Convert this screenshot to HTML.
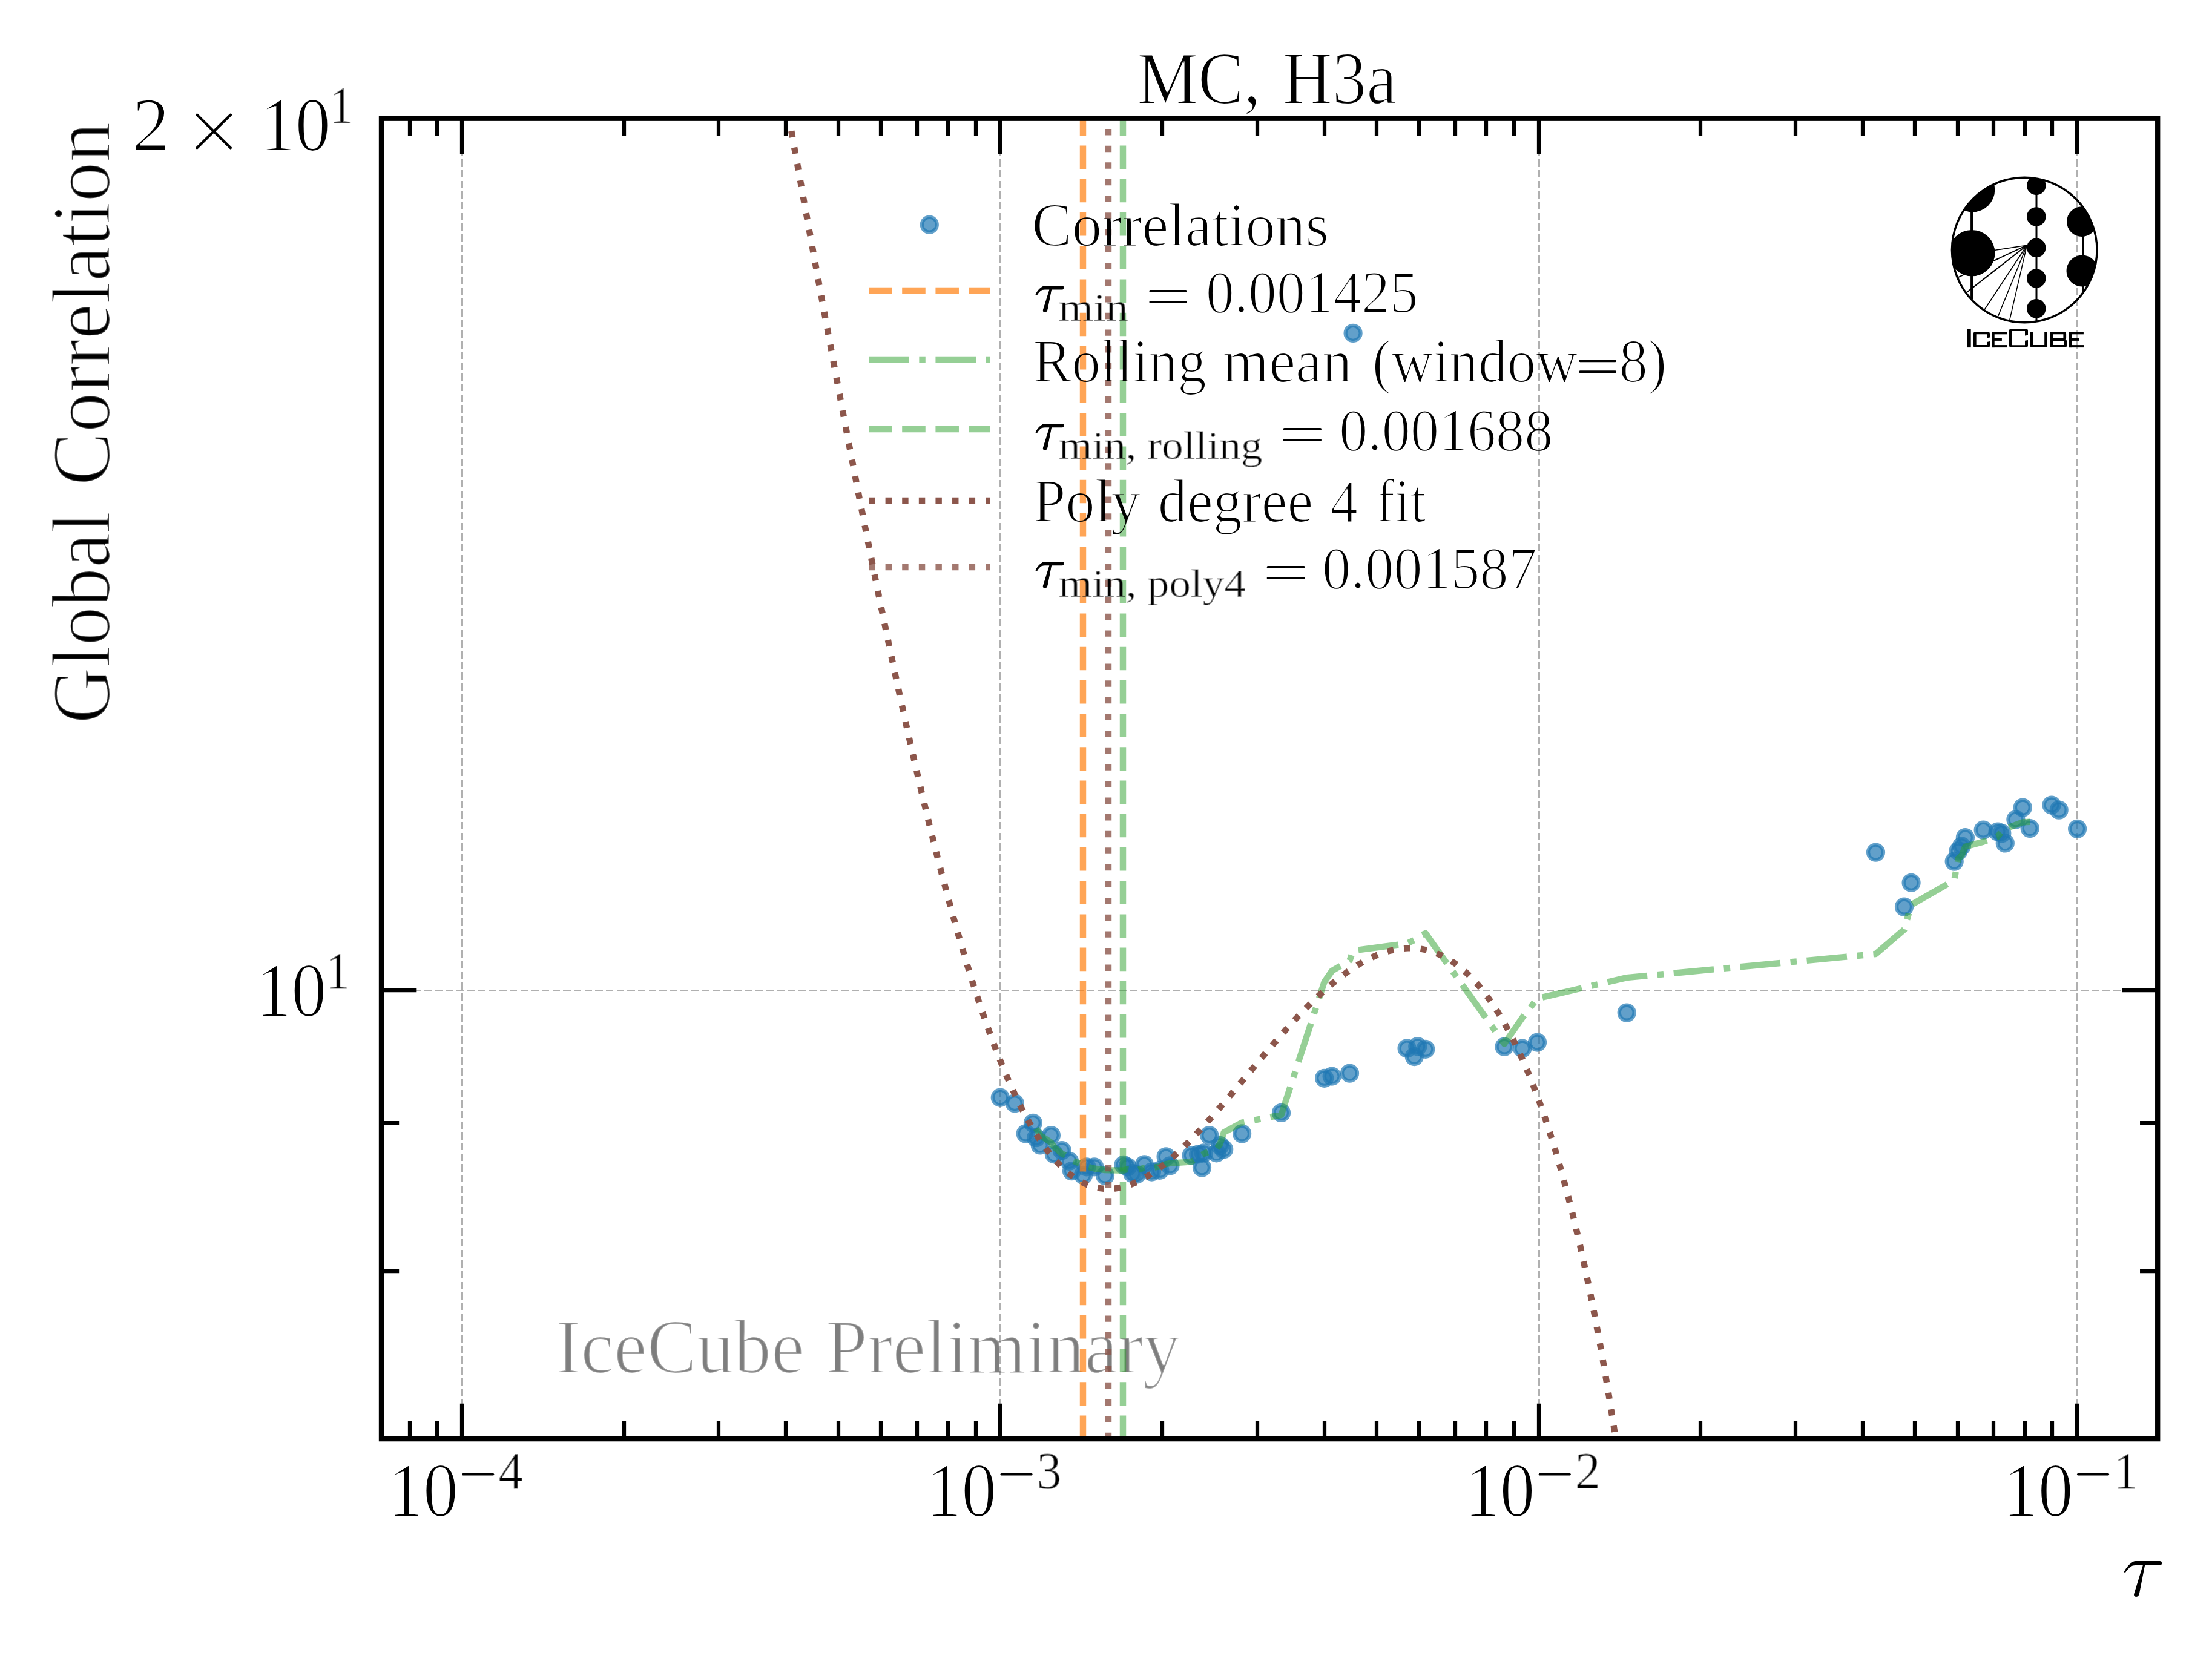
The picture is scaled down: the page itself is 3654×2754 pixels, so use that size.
<!DOCTYPE html>
<html><head><meta charset="utf-8"><title>MC, H3a</title>
<style>html,body{margin:0;padding:0;background:#fff;}body{width:3654px;height:2754px;overflow:hidden;}text{font-kerning:normal;white-space:pre;}</style></head>
<body>
<svg width="3654" height="2754" viewBox="0 0 3654 2754" style="display:block">
<rect width="3654" height="2754" fill="#fff"/>
<defs><clipPath id="ax"><rect x="630.0" y="195.7" width="2934.2" height="2181.4"/></clipPath><clipPath id="lc"><circle cx="3344.2" cy="413.0" r="120.5"/></clipPath><filter id="thin" filterUnits="userSpaceOnUse" x="0" y="0" width="3654" height="2754"><feMorphology operator="erode" radius="1"/></filter><filter id="thin2" filterUnits="userSpaceOnUse" x="0" y="0" width="3654" height="2754"><feMorphology operator="erode" radius="2"/></filter></defs>
<path d="M763.50,2377.1 L763.50,195.7 M1652.50,2377.1 L1652.50,195.7 M2542.50,2377.1 L2542.50,195.7 M3431.50,2377.1 L3431.50,195.7 M630.0,1636.50 L3564.2,1636.50" stroke="#b0b0b0" stroke-width="3" stroke-dasharray="12.33 5.33" fill="none" shape-rendering="crispEdges"/>
<g opacity="0.5"><g fill="#000" fill-opacity="0.75" filter="url(#thin)"><text transform="translate(918.28,2267.95) scale(0.9700,1.0)" style="font-family:&quot;Liberation Serif&quot;,serif;font-size:127px;">IceCube</text>
<text transform="translate(1363.93,2267.95) scale(0.9778,1.0)" style="font-family:&quot;Liberation Serif&quot;,serif;font-size:127px;">Preliminary</text></g>
<g fill="#000" filter="url(#thin2)"><text transform="translate(918.28,2267.95) scale(0.9700,1.0)" style="font-family:&quot;Liberation Serif&quot;,serif;font-size:127px;">IceCube</text>
<text transform="translate(1363.93,2267.95) scale(0.9778,1.0)" style="font-family:&quot;Liberation Serif&quot;,serif;font-size:127px;">Preliminary</text></g></g>
<g clip-path="url(#ax)">
<g fill="#1f77b4" fill-opacity="0.7" stroke="#1f77b4" stroke-opacity="0.7" stroke-width="6.25">
<circle cx="1652.3" cy="1813.2" r="12.5"/>
<circle cx="1676.3" cy="1822.7" r="12.5"/>
<circle cx="1694.3" cy="1872.9" r="12.5"/>
<circle cx="1706.4" cy="1855.3" r="12.5"/>
<circle cx="1711.6" cy="1879.7" r="12.5"/>
<circle cx="1718.3" cy="1891.9" r="12.5"/>
<circle cx="1736.4" cy="1875.6" r="12.5"/>
<circle cx="1741.4" cy="1906.8" r="12.5"/>
<circle cx="1754.3" cy="1900.7" r="12.5"/>
<circle cx="1766.5" cy="1918.3" r="12.5"/>
<circle cx="1770.5" cy="1934.6" r="12.5"/>
<circle cx="1789.5" cy="1941.4" r="12.5"/>
<circle cx="1795.0" cy="1927.8" r="12.5"/>
<circle cx="1807.8" cy="1927.8" r="12.5"/>
<circle cx="1825.5" cy="1942.1" r="12.5"/>
<circle cx="1856.0" cy="1924.4" r="12.5"/>
<circle cx="1862.8" cy="1927.8" r="12.5"/>
<circle cx="1870.9" cy="1938.7" r="12.5"/>
<circle cx="1877.7" cy="1940.0" r="12.5"/>
<circle cx="1890.4" cy="1923.8" r="12.5"/>
<circle cx="1902.4" cy="1936.0" r="12.5"/>
<circle cx="1915.9" cy="1933.3" r="12.5"/>
<circle cx="1926.1" cy="1910.9" r="12.5"/>
<circle cx="1932.9" cy="1925.8" r="12.5"/>
<circle cx="1968.2" cy="1908.8" r="12.5"/>
<circle cx="1979.7" cy="1906.8" r="12.5"/>
<circle cx="1985.5" cy="1928.9" r="12.5"/>
<circle cx="1988.5" cy="1904.8" r="12.5"/>
<circle cx="1997.7" cy="1875.6" r="12.5"/>
<circle cx="2009.5" cy="1904.8" r="12.5"/>
<circle cx="2015.6" cy="1892.6" r="12.5"/>
<circle cx="2021.7" cy="1898.7" r="12.5"/>
<circle cx="2051.6" cy="1872.9" r="12.5"/>
<circle cx="2116.5" cy="1838.4" r="12.5"/>
<circle cx="2187.7" cy="1781.3" r="12.5"/>
<circle cx="2200.2" cy="1778.0" r="12.5"/>
<circle cx="2229.5" cy="1773.1" r="12.5"/>
<circle cx="2235.1" cy="550.4" r="12.5"/>
<circle cx="2324.1" cy="1731.9" r="12.5"/>
<circle cx="2336.3" cy="1745.5" r="12.5"/>
<circle cx="2341.8" cy="1728.7" r="12.5"/>
<circle cx="2354.8" cy="1733.3" r="12.5"/>
<circle cx="2485.0" cy="1729.2" r="12.5"/>
<circle cx="2514.8" cy="1732.0" r="12.5"/>
<circle cx="2539.5" cy="1722.0" r="12.5"/>
<circle cx="2687.2" cy="1673.1" r="12.5"/>
<circle cx="3098.5" cy="1408.1" r="12.5"/>
<circle cx="3145.5" cy="1498.2" r="12.5"/>
<circle cx="3157.1" cy="1458.3" r="12.5"/>
<circle cx="3228.2" cy="1423.1" r="12.5"/>
<circle cx="3235.0" cy="1406.0" r="12.5"/>
<circle cx="3240.4" cy="1397.8" r="12.5"/>
<circle cx="3246.4" cy="1383.7" r="12.5"/>
<circle cx="3276.2" cy="1371.2" r="12.5"/>
<circle cx="3300.1" cy="1374.0" r="12.5"/>
<circle cx="3306.8" cy="1376.7" r="12.5"/>
<circle cx="3312.3" cy="1392.9" r="12.5"/>
<circle cx="3329.9" cy="1353.9" r="12.5"/>
<circle cx="3341.3" cy="1334.1" r="12.5"/>
<circle cx="3353.2" cy="1368.5" r="12.5"/>
<circle cx="3389.0" cy="1330.0" r="12.5"/>
<circle cx="3401.2" cy="1338.2" r="12.5"/>
<circle cx="3431.6" cy="1369.3" r="12.5"/>
</g>
<path d="M1789.00,2377.1 L1789.00,195.7" stroke="#ff7f0e" stroke-opacity="0.7" stroke-width="10.42" stroke-dasharray="38.54 16.67" fill="none"/>
<path d="M1711.6,1864.5 L1718.3,1875.5 L1736.4,1887.6 L1741.4,1895.2 L1754.3,1906.0 L1766.5,1912.0 L1770.5,1916.5 L1789.5,1924.9 L1795.0,1927.1 L1807.8,1930.5 L1825.5,1933.1 L1856.0,1933.7 L1862.8,1931.5 L1870.9,1932.6 L1877.7,1933.3 L1890.4,1929.3 L1902.4,1929.5 L1915.9,1927.1 L1926.1,1923.1 L1932.9,1921.8 L1968.2,1919.4 L1979.7,1911.8 L1985.5,1908.2 L1988.5,1906.0 L1997.7,1902.6 L2009.5,1898.1 L2015.6,1889.4 L2021.7,1870.8 L2051.6,1854.7 L2116.5,1841.8 L2187.7,1622.2 L2200.2,1604.0 L2229.5,1586.8 L2235.1,1570.6 L2324.1,1558.8 L2336.3,1552.9 L2341.8,1547.6 L2354.8,1541.9 L2485.0,1724.4 L2514.8,1681.2 L2539.5,1649.6 L2687.2,1615.1 L3098.5,1576.0 L3145.5,1535.8 L3157.1,1494.9 L3228.2,1454.2 L3235.0,1417.9 L3240.4,1413.6 L3246.4,1398.7 L3276.2,1390.6 L3300.1,1382.0 L3306.8,1372.9 L3312.3,1369.3 L3329.9,1362.6 L3341.3,1358.4 L3353.2,1357.8" stroke="#2ca02c" stroke-opacity="0.5" stroke-width="10.42" stroke-dasharray="66.67 16.67 10.42 16.67" fill="none" stroke-linejoin="round"/>
<path d="M1855.00,2377.1 L1855.00,195.7" stroke="#2ca02c" stroke-opacity="0.5" stroke-width="10.42" stroke-dasharray="38.54 16.67" fill="none"/>
<path d="M1268.5,-1.0 L1269.5,4.6 L1270.4,9.7 L1271.3,14.7 L1272.2,19.7 L1273.1,24.7 L1274.0,29.7 L1274.9,34.7 L1275.8,39.7 L1276.7,44.7 L1277.5,49.7 L1278.4,54.7 L1279.3,59.7 L1280.2,64.7 L1281.1,69.7 L1282.0,74.7 L1282.9,79.7 L1283.8,84.7 L1284.7,89.7 L1285.5,94.7 L1286.4,99.7 L1287.3,104.7 L1288.2,109.7 L1289.1,114.7 L1290.0,119.7 L1290.9,124.7 L1291.8,129.7 L1292.7,134.6 L1293.5,139.6 L1294.4,144.6 L1295.3,149.6 L1296.2,154.6 L1297.1,159.6 L1298.0,164.5 L1298.9,169.5 L1299.8,174.5 L1300.7,179.5 L1301.6,184.4 L1302.4,189.4 L1303.3,194.4 L1304.2,199.4 L1305.1,204.3 L1306.0,209.3 L1306.9,214.3 L1307.8,219.2 L1308.7,224.2 L1309.6,229.1 L1310.4,234.1 L1311.3,239.1 L1312.2,244.0 L1313.1,249.0 L1314.0,253.9 L1314.9,258.9 L1315.8,263.8 L1316.7,268.8 L1317.6,273.7 L1318.4,278.6 L1319.3,283.6 L1320.2,288.5 L1321.1,293.5 L1322.0,298.4 L1322.9,303.3 L1323.8,308.3 L1324.7,313.2 L1325.6,318.1 L1326.5,323.0 L1327.3,328.0 L1328.2,332.9 L1329.1,337.8 L1330.0,342.7 L1330.9,347.6 L1331.8,352.5 L1332.7,357.4 L1333.6,362.4 L1334.5,367.3 L1335.3,372.2 L1336.2,377.1 L1337.1,382.0 L1338.0,386.9 L1338.9,391.7 L1339.8,396.6 L1340.7,401.5 L1341.6,406.4 L1342.5,411.3 L1343.3,416.2 L1344.2,421.1 L1345.1,425.9 L1346.0,430.8 L1346.9,435.7 L1347.8,440.5 L1348.7,445.4 L1349.6,450.3 L1350.5,455.1 L1351.4,460.0 L1352.2,464.8 L1353.1,469.7 L1354.0,474.6 L1354.9,479.4 L1355.8,484.2 L1356.7,489.1 L1357.6,493.9 L1358.5,498.8 L1359.4,503.6 L1360.2,508.4 L1361.1,513.2 L1362.0,518.1 L1362.9,522.9 L1363.8,527.7 L1364.7,532.5 L1365.6,537.3 L1366.5,542.1 L1367.4,546.9 L1368.2,551.7 L1369.1,556.5 L1370.0,561.3 L1370.9,566.1 L1371.8,570.9 L1372.7,575.7 L1373.6,580.5 L1374.5,585.3 L1375.4,590.0 L1376.3,594.8 L1377.1,599.6 L1378.0,604.3 L1378.9,609.1 L1379.8,613.8 L1380.7,618.6 L1381.6,623.3 L1382.5,628.1 L1383.4,632.8 L1384.3,637.6 L1385.1,642.3 L1386.0,647.0 L1386.9,651.8 L1387.8,656.5 L1388.7,661.2 L1389.6,665.9 L1390.5,670.6 L1391.4,675.3 L1392.3,680.0 L1393.1,684.7 L1394.0,689.4 L1394.9,694.1 L1395.8,698.8 L1396.7,703.5 L1397.6,708.2 L1398.5,712.8 L1399.4,717.5 L1400.3,722.2 L1401.2,726.8 L1402.0,731.5 L1402.9,736.2 L1403.8,740.8 L1404.7,745.4 L1405.6,750.1 L1406.5,754.7 L1407.4,759.4 L1408.3,764.0 L1409.2,768.6 L1410.0,773.2 L1410.9,777.8 L1411.8,782.4 L1412.7,787.0 L1413.6,791.6 L1414.5,796.2 L1415.4,800.8 L1416.3,805.4 L1417.2,810.0 L1418.0,814.6 L1418.9,819.1 L1419.8,823.7 L1420.7,828.3 L1421.6,832.8 L1422.5,837.4 L1423.4,841.9 L1424.3,846.4 L1425.2,851.0 L1426.1,855.5 L1426.9,860.0 L1427.8,864.5 L1428.7,869.1 L1429.6,873.6 L1430.5,878.1 L1431.4,882.6 L1432.3,887.1 L1433.2,891.5 L1434.1,896.0 L1434.9,900.5 L1435.8,905.0 L1436.7,909.4 L1437.6,913.9 L1438.5,918.4 L1439.4,922.8 L1440.3,927.2 L1441.2,931.7 L1442.1,936.1 L1442.9,940.5 L1443.8,945.0 L1444.7,949.4 L1445.6,953.8 L1446.5,958.2 L1447.4,962.6 L1448.3,967.0 L1449.2,971.3 L1450.1,975.7 L1451.0,980.1 L1451.8,984.5 L1452.7,988.8 L1453.6,993.2 L1454.5,997.5 L1455.4,1001.9 L1456.3,1006.2 L1457.2,1010.5 L1458.1,1014.9 L1459.0,1019.2 L1459.8,1023.5 L1460.7,1027.8 L1461.6,1032.1 L1462.5,1036.4 L1463.4,1040.7 L1464.3,1044.9 L1465.2,1049.2 L1466.1,1053.5 L1467.0,1057.7 L1467.8,1062.0 L1468.7,1066.2 L1469.6,1070.5 L1470.5,1074.7 L1471.4,1078.9 L1472.3,1083.1 L1473.2,1087.3 L1474.1,1091.5 L1475.0,1095.7 L1475.8,1099.9 L1476.7,1104.1 L1477.6,1108.3 L1478.5,1112.4 L1479.4,1116.6 L1480.3,1120.8 L1481.2,1124.9 L1482.1,1129.0 L1483.0,1133.2 L1483.9,1137.3 L1484.7,1141.4 L1485.6,1145.5 L1486.5,1149.6 L1487.4,1153.7 L1488.3,1157.8 L1489.2,1161.9 L1490.1,1166.0 L1491.0,1170.0 L1491.9,1174.1 L1492.7,1178.1 L1493.6,1182.2 L1494.5,1186.2 L1495.4,1190.2 L1496.3,1194.3 L1497.2,1198.3 L1498.1,1202.3 L1499.0,1206.3 L1499.9,1210.3 L1500.7,1214.2 L1501.6,1218.2 L1502.5,1222.2 L1503.4,1226.1 L1504.3,1230.1 L1505.2,1234.0 L1506.1,1238.0 L1507.0,1241.9 L1507.9,1245.8 L1508.8,1249.7 L1510.1,1255.5 L1511.4,1261.4 L1512.8,1267.2 L1514.1,1273.0 L1515.4,1278.7 L1516.8,1284.5 L1518.1,1290.2 L1519.4,1295.9 L1520.8,1301.6 L1522.1,1307.3 L1523.4,1313.0 L1524.8,1318.6 L1526.1,1324.2 L1527.4,1329.8 L1528.8,1335.4 L1530.1,1340.9 L1531.4,1346.5 L1532.8,1352.0 L1534.1,1357.5 L1535.4,1362.9 L1536.8,1368.4 L1538.1,1373.8 L1539.4,1379.2 L1540.8,1384.6 L1542.1,1390.0 L1543.4,1395.4 L1544.8,1400.7 L1546.1,1406.0 L1547.4,1411.3 L1548.8,1416.5 L1550.1,1421.8 L1551.4,1427.0 L1552.8,1432.2 L1554.1,1437.4 L1555.4,1442.5 L1556.8,1447.6 L1558.1,1452.7 L1559.4,1457.8 L1560.8,1462.9 L1562.1,1467.9 L1563.4,1473.0 L1564.8,1477.9 L1566.1,1482.9 L1567.4,1487.9 L1568.8,1492.8 L1570.1,1497.7 L1571.4,1502.6 L1572.8,1507.4 L1574.1,1512.3 L1575.4,1517.1 L1576.8,1521.9 L1578.1,1526.6 L1579.4,1531.4 L1580.8,1536.1 L1582.1,1540.8 L1583.5,1545.4 L1584.8,1550.1 L1586.1,1554.7 L1587.5,1559.3 L1588.8,1563.9 L1590.1,1568.4 L1591.5,1573.0 L1592.8,1577.4 L1594.1,1581.9 L1595.5,1586.4 L1596.8,1590.8 L1598.1,1595.2 L1599.5,1599.6 L1600.8,1603.9 L1602.1,1608.2 L1603.5,1612.5 L1604.8,1616.8 L1606.1,1621.1 L1607.5,1625.3 L1608.8,1629.5 L1610.1,1633.7 L1611.5,1637.8 L1612.8,1641.9 L1614.1,1646.0 L1615.5,1650.1 L1616.8,1654.1 L1618.1,1658.2 L1619.5,1662.2 L1620.8,1666.1 L1622.1,1670.1 L1623.5,1674.0 L1624.8,1677.9 L1626.1,1681.7 L1627.5,1685.6 L1628.8,1689.4 L1630.1,1693.2 L1631.9,1698.2 L1633.7,1703.1 L1635.5,1708.1 L1637.3,1712.9 L1639.0,1717.7 L1640.8,1722.5 L1642.6,1727.2 L1644.4,1731.9 L1646.1,1736.6 L1647.9,1741.1 L1649.7,1745.7 L1651.5,1750.2 L1653.3,1754.6 L1655.0,1759.0 L1656.8,1763.3 L1658.6,1767.6 L1660.4,1771.9 L1662.2,1776.1 L1663.9,1780.2 L1665.7,1784.3 L1667.5,1788.4 L1669.3,1792.4 L1671.0,1796.4 L1672.8,1800.3 L1674.6,1804.1 L1676.4,1808.0 L1678.2,1811.7 L1679.9,1815.4 L1681.7,1819.1 L1683.5,1822.7 L1685.7,1827.2 L1687.9,1831.6 L1690.2,1835.9 L1692.4,1840.1 L1694.6,1844.3 L1696.8,1848.4 L1699.1,1852.4 L1701.3,1856.3 L1703.5,1860.2 L1705.7,1864.0 L1707.9,1867.7 L1710.2,1871.3 L1712.4,1874.9 L1714.6,1878.4 L1716.8,1881.8 L1719.1,1885.1 L1721.7,1889.0 L1724.4,1892.8 L1727.1,1896.5 L1729.7,1900.1 L1732.4,1903.6 L1735.1,1907.0 L1737.7,1910.3 L1740.4,1913.5 L1743.1,1916.5 L1746.2,1920.0 L1749.3,1923.3 L1752.4,1926.5 L1755.5,1929.5 L1758.6,1932.4 L1761.8,1935.2 L1764.9,1937.8 L1768.4,1940.7 L1772.0,1943.4 L1775.5,1945.9 L1779.1,1948.2 L1782.6,1950.4 L1786.2,1952.4 L1789.8,1954.2 L1793.8,1956.1 L1797.8,1957.8 L1801.8,1959.2 L1805.8,1960.5 L1809.8,1961.6 L1813.8,1962.4 L1817.8,1963.1 L1821.8,1963.6 L1825.8,1964.0 L1829.8,1964.1 L1833.8,1964.1 L1837.8,1963.8 L1841.8,1963.5 L1845.8,1962.9 L1849.8,1962.2 L1853.8,1961.3 L1857.8,1960.3 L1861.8,1959.1 L1865.8,1957.7 L1869.8,1956.2 L1873.8,1954.6 L1877.8,1952.8 L1881.8,1950.8 L1885.8,1948.8 L1889.4,1946.8 L1892.9,1944.8 L1896.5,1942.6 L1900.0,1940.4 L1903.6,1938.1 L1907.1,1935.6 L1910.7,1933.1 L1914.3,1930.5 L1917.8,1927.8 L1921.4,1925.0 L1924.9,1922.2 L1928.0,1919.6 L1931.2,1917.0 L1934.3,1914.3 L1937.4,1911.6 L1940.5,1908.8 L1943.6,1906.0 L1946.7,1903.1 L1949.8,1900.1 L1952.9,1897.1 L1956.1,1894.1 L1959.2,1891.0 L1962.3,1887.9 L1965.4,1884.8 L1968.5,1881.6 L1971.6,1878.3 L1974.7,1875.0 L1977.8,1871.7 L1981.0,1868.4 L1984.1,1865.0 L1987.2,1861.6 L1990.3,1858.2 L1993.4,1854.7 L1996.1,1851.7 L1998.7,1848.7 L2001.4,1845.7 L2004.1,1842.6 L2006.7,1839.6 L2009.4,1836.5 L2012.1,1833.4 L2014.7,1830.3 L2017.4,1827.2 L2020.1,1824.0 L2022.8,1820.9 L2025.4,1817.8 L2028.1,1814.6 L2030.8,1811.4 L2033.4,1808.3 L2036.1,1805.1 L2038.8,1801.9 L2041.4,1798.7 L2044.1,1795.5 L2046.8,1792.3 L2049.4,1789.1 L2052.1,1785.9 L2054.8,1782.7 L2057.4,1779.5 L2060.1,1776.3 L2062.8,1773.1 L2065.4,1769.9 L2068.1,1766.7 L2070.8,1763.5 L2073.4,1760.3 L2076.1,1757.1 L2078.8,1753.9 L2081.4,1750.7 L2084.1,1747.5 L2086.8,1744.4 L2089.4,1741.2 L2092.1,1738.1 L2094.8,1734.9 L2097.4,1731.8 L2100.1,1728.7 L2102.8,1725.6 L2105.5,1722.5 L2108.1,1719.4 L2110.8,1716.3 L2113.5,1713.3 L2116.1,1710.2 L2118.8,1707.2 L2121.5,1704.2 L2124.1,1701.2 L2127.2,1697.8 L2130.4,1694.3 L2133.5,1690.9 L2136.6,1687.5 L2139.7,1684.1 L2142.8,1680.8 L2145.9,1677.5 L2149.0,1674.2 L2152.1,1671.0 L2155.3,1667.8 L2158.4,1664.6 L2161.5,1661.5 L2164.6,1658.4 L2167.7,1655.3 L2170.8,1652.3 L2173.9,1649.3 L2177.0,1646.3 L2180.2,1643.4 L2183.3,1640.5 L2186.4,1637.7 L2189.5,1634.9 L2192.6,1632.1 L2195.7,1629.4 L2198.8,1626.8 L2201.9,1624.1 L2205.1,1621.6 L2208.2,1619.0 L2211.7,1616.2 L2215.3,1613.5 L2218.8,1610.8 L2222.4,1608.1 L2225.9,1605.6 L2229.5,1603.1 L2233.1,1600.7 L2236.6,1598.3 L2240.2,1596.0 L2243.7,1593.8 L2247.3,1591.7 L2250.8,1589.6 L2254.4,1587.7 L2258.0,1585.8 L2262.0,1583.7 L2266.0,1581.8 L2270.0,1580.0 L2274.0,1578.3 L2278.0,1576.6 L2282.0,1575.1 L2286.0,1573.8 L2290.0,1572.5 L2294.0,1571.3 L2298.0,1570.3 L2302.0,1569.4 L2306.0,1568.5 L2310.0,1567.9 L2314.0,1567.3 L2318.0,1566.9 L2322.0,1566.6 L2326.0,1566.4 L2330.0,1566.4 L2334.0,1566.5 L2338.0,1566.7 L2342.0,1567.1 L2346.0,1567.6 L2350.0,1568.2 L2354.0,1569.0 L2358.0,1570.0 L2362.0,1571.1 L2366.0,1572.3 L2370.0,1573.7 L2374.0,1575.3 L2378.0,1577.0 L2382.0,1578.9 L2386.0,1580.9 L2389.6,1582.8 L2393.1,1584.9 L2396.7,1587.1 L2400.2,1589.5 L2403.8,1591.9 L2407.4,1594.6 L2410.9,1597.3 L2414.0,1599.8 L2417.1,1602.5 L2420.3,1605.2 L2423.4,1608.1 L2426.5,1611.1 L2429.6,1614.2 L2432.7,1617.4 L2435.8,1620.7 L2438.9,1624.2 L2441.6,1627.2 L2444.3,1630.4 L2446.9,1633.6 L2449.6,1636.9 L2452.3,1640.4 L2454.9,1643.9 L2457.6,1647.5 L2460.3,1651.2 L2462.9,1655.0 L2465.6,1658.9 L2467.8,1662.2 L2470.1,1665.6 L2472.3,1669.1 L2474.5,1672.6 L2476.7,1676.2 L2478.9,1679.9 L2481.2,1683.7 L2483.4,1687.5 L2485.6,1691.4 L2487.8,1695.4 L2490.1,1699.4 L2492.3,1703.6 L2494.5,1707.8 L2496.7,1712.1 L2499.0,1716.4 L2501.2,1720.9 L2503.0,1724.5 L2504.7,1728.2 L2506.5,1731.9 L2508.3,1735.6 L2510.1,1739.5 L2511.8,1743.4 L2513.6,1747.3 L2515.4,1751.3 L2517.2,1755.3 L2519.0,1759.4 L2520.7,1763.6 L2522.5,1767.8 L2524.3,1772.0 L2526.1,1776.4 L2527.9,1780.8 L2529.6,1785.2 L2531.4,1789.7 L2533.2,1794.3 L2535.0,1798.9 L2536.7,1803.6 L2538.5,1808.3 L2540.3,1813.1 L2542.1,1818.0 L2543.9,1822.9 L2545.6,1827.9 L2547.0,1831.7 L2548.3,1835.5 L2549.6,1839.4 L2551.0,1843.3 L2552.3,1847.2 L2553.6,1851.2 L2555.0,1855.2 L2556.3,1859.2 L2557.6,1863.3 L2559.0,1867.5 L2560.3,1871.6 L2561.6,1875.8 L2563.0,1880.1 L2564.3,1884.3 L2565.7,1888.7 L2567.0,1893.0 L2568.3,1897.4 L2569.7,1901.9 L2571.0,1906.4 L2572.3,1910.9 L2573.7,1915.5 L2575.0,1920.1 L2576.3,1924.7 L2577.7,1929.4 L2579.0,1934.2 L2580.3,1938.9 L2581.7,1943.8 L2583.0,1948.6 L2584.3,1953.6 L2585.7,1958.5 L2587.0,1963.5 L2588.3,1968.6 L2589.7,1973.7 L2591.0,1978.8 L2592.3,1984.0 L2593.7,1989.2 L2595.0,1994.5 L2596.3,1999.9 L2597.7,2005.2 L2599.0,2010.7 L2600.3,2016.2 L2601.7,2021.7 L2603.0,2027.3 L2604.3,2032.9 L2605.7,2038.6 L2607.0,2044.3 L2608.3,2050.1 L2609.7,2055.9 L2610.6,2059.9 L2611.4,2063.8 L2612.3,2067.8 L2613.2,2071.8 L2614.1,2075.8 L2615.0,2079.8 L2615.9,2083.9 L2616.8,2088.0 L2617.7,2092.1 L2618.6,2096.3 L2619.5,2100.4 L2620.3,2104.6 L2621.2,2108.8 L2622.1,2113.1 L2623.0,2117.3 L2623.9,2121.6 L2624.8,2125.9 L2625.7,2130.3 L2626.6,2134.7 L2627.5,2139.1 L2628.3,2143.5 L2629.2,2147.9 L2630.1,2152.4 L2631.0,2156.9 L2631.9,2161.5 L2632.8,2166.0 L2633.7,2170.6 L2634.6,2175.2 L2635.5,2179.9 L2636.3,2184.5 L2637.2,2189.2 L2638.1,2194.0 L2639.0,2198.7 L2639.9,2203.5 L2640.8,2208.3 L2641.7,2213.2 L2642.6,2218.1 L2643.5,2223.0 L2644.4,2227.9 L2645.2,2232.9 L2646.1,2237.9 L2647.0,2242.9 L2647.9,2247.9 L2648.8,2253.0 L2649.7,2258.2 L2650.6,2263.3 L2651.5,2268.5 L2652.4,2273.7 L2653.2,2279.0 L2654.1,2284.2 L2655.0,2289.6 L2655.9,2294.9 L2656.8,2300.3 L2657.7,2305.7 L2658.6,2311.1 L2659.5,2316.6 L2660.4,2322.1 L2661.2,2327.7 L2662.1,2333.3 L2663.0,2338.9 L2663.9,2344.6 L2664.8,2350.3 L2665.7,2356.0 L2666.6,2361.7 L2667.5,2367.5 L2668.4,2373.4 L2669.3,2379.3 L2670.1,2385.2 L2671.0,2391.1 L2671.9,2397.1 L2672.8,2403.1 L2673.7,2409.2 L2674.6,2415.3 L2675.5,2421.4 L2676.4,2427.6 L2677.3,2433.8 L2678.1,2440.1 L2679.0,2446.4 L2679.9,2452.7 L2680.8,2459.1 L2681.7,2465.6 L2682.6,2472.0 L2683.5,2478.5 L2684.4,2485.1 L2685.3,2491.7 L2686.1,2498.3 L2687.0,2505.0 L2687.9,2511.7 L2688.8,2518.5 L2689.7,2525.3 L2690.6,2532.2 L2691.5,2539.1 L2692.4,2546.0 L2693.3,2553.0 L2694.1,2560.1 L2695.0,2567.2 L2695.9,2574.3 L2696.8,2581.5 L2697.7,2588.7 L2698.6,2596.0 L2699.5,2603.4 L2700.4,2610.7 L2701.3,2618.2 L2702.2,2625.7 L2703.0,2633.2 L2703.9,2640.8 L2704.8,2648.4 L2705.7,2656.1 L2706.6,2663.9 L2707.5,2671.7 L2708.4,2679.5 L2709.3,2687.5 L2709.7,2691.4 L2710.2,2695.4 L2710.6,2699.4 L2711.0,2703.4 L2711.5,2707.5 L2711.9,2711.5 L2712.4,2715.6 L2712.8,2719.7 L2713.3,2723.8 L2713.7,2727.9 L2714.2,2732.0 L2714.6,2736.1 L2715.0,2740.3 L2715.5,2744.4 L2715.9,2748.6 L2716.4,2752.8 L2716.8,2757.0 L2717.3,2761.2 L2717.7,2765.5 L2718.2,2769.7 L2718.6,2774.0 L2719.0,2778.3 L2719.5,2782.6 L2719.9,2786.9 L2720.4,2791.2 L2720.8,2795.6 L2721.3,2799.9" stroke="#8c564b" stroke-width="10.42" stroke-dasharray="10.42 17.19" fill="none"/>
<path d="M1831.00,2377.1 L1831.00,195.7" stroke="#8c564b" stroke-opacity="0.8" stroke-width="10.42" stroke-dasharray="10.42 17.19" fill="none"/>
</g>
<path d="M677.00,2377.1 v-29.17 M677.00,195.7 v29.17 M722.00,2377.1 v-29.17 M722.00,195.7 v29.17 M763.00,2377.1 v-58.33 M763.00,195.7 v58.33 M1031.00,2377.1 v-29.17 M1031.00,195.7 v29.17 M1187.00,2377.1 v-29.17 M1187.00,195.7 v29.17 M1298.00,2377.1 v-29.17 M1298.00,195.7 v29.17 M1385.00,2377.1 v-29.17 M1385.00,195.7 v29.17 M1455.00,2377.1 v-29.17 M1455.00,195.7 v29.17 M1515.00,2377.1 v-29.17 M1515.00,195.7 v29.17 M1566.00,2377.1 v-29.17 M1566.00,195.7 v29.17 M1612.00,2377.1 v-29.17 M1612.00,195.7 v29.17 M1652.00,2377.1 v-58.33 M1652.00,195.7 v58.33 M1920.00,2377.1 v-29.17 M1920.00,195.7 v29.17 M2077.00,2377.1 v-29.17 M2077.00,195.7 v29.17 M2188.00,2377.1 v-29.17 M2188.00,195.7 v29.17 M2274.00,2377.1 v-29.17 M2274.00,195.7 v29.17 M2344.00,2377.1 v-29.17 M2344.00,195.7 v29.17 M2404.00,2377.1 v-29.17 M2404.00,195.7 v29.17 M2455.00,2377.1 v-29.17 M2455.00,195.7 v29.17 M2501.00,2377.1 v-29.17 M2501.00,195.7 v29.17 M2542.00,2377.1 v-58.33 M2542.00,195.7 v58.33 M2809.00,2377.1 v-29.17 M2809.00,195.7 v29.17 M2966.00,2377.1 v-29.17 M2966.00,195.7 v29.17 M3077.00,2377.1 v-29.17 M3077.00,195.7 v29.17 M3163.00,2377.1 v-29.17 M3163.00,195.7 v29.17 M3234.00,2377.1 v-29.17 M3234.00,195.7 v29.17 M3293.00,2377.1 v-29.17 M3293.00,195.7 v29.17 M3345.00,2377.1 v-29.17 M3345.00,195.7 v29.17 M3390.00,2377.1 v-29.17 M3390.00,195.7 v29.17 M3431.00,2377.1 v-58.33 M3431.00,195.7 v58.33 M630.0,1636.00 h58.33 M3564.2,1636.00 h-58.33 M630.0,2100.00 h29.17 M3564.2,2100.00 h-29.17 M630.0,1855.00 h29.17 M3564.2,1855.00 h-29.17" stroke="#000" stroke-width="6.25" fill="none"/>
<rect x="630.0" y="195.7" width="2934.2" height="2181.4" fill="none" stroke="#000" stroke-width="8.33"/>
<circle cx="1535.3" cy="371.2" r="12.5" fill="#1f77b4" fill-opacity="0.7" stroke="#1f77b4" stroke-opacity="0.7" stroke-width="6.25"/>
<line x1="1435.00" y1="480.00" x2="1635.00" y2="480.00" stroke="#ff7f0e" stroke-width="10.42" stroke-linecap="butt" stroke-opacity="0.7" stroke-dasharray="38.54 16.67"/>
<line x1="1435.00" y1="594.00" x2="1635.00" y2="594.00" stroke="#2ca02c" stroke-width="10.42" stroke-linecap="butt" stroke-opacity="0.5" stroke-dasharray="66.67 16.67 10.42 16.67"/>
<line x1="1435.00" y1="709.00" x2="1635.00" y2="709.00" stroke="#2ca02c" stroke-width="10.42" stroke-linecap="butt" stroke-opacity="0.5" stroke-dasharray="38.54 16.67"/>
<line x1="1435.00" y1="827.00" x2="1635.00" y2="827.00" stroke="#8c564b" stroke-width="10.42" stroke-linecap="butt" stroke-dasharray="10.42 17.19"/>
<line x1="1435.00" y1="937.00" x2="1635.00" y2="937.00" stroke="#8c564b" stroke-width="10.42" stroke-linecap="butt" stroke-opacity="0.8" stroke-dasharray="10.42 17.19"/>
<g>
<g clip-path="url(#lc)">
<line x1="3364.00" y1="300.00" x2="3364.00" y2="540.00" stroke="#000" stroke-width="3.00" stroke-linecap="butt" />
<line x1="3257.10" y1="330.00" x2="3257.10" y2="494.50" stroke="#000" stroke-width="4.00" stroke-linecap="butt" />
<line x1="3440.70" y1="341.60" x2="3440.70" y2="484.40" stroke="#000" stroke-width="2.70" stroke-linecap="butt" />
<line x1="3348.30" y1="405.20" x2="3203.09" y2="427.56" stroke="#000" stroke-width="1.60" stroke-linecap="butt" />
<line x1="3348.30" y1="405.20" x2="3229.86" y2="460.43" stroke="#000" stroke-width="1.90" stroke-linecap="butt" />
<line x1="3348.30" y1="405.20" x2="3244.35" y2="486.57" stroke="#000" stroke-width="2.00" stroke-linecap="butt" />
<line x1="3348.30" y1="405.20" x2="3275.43" y2="515.76" stroke="#000" stroke-width="1.70" stroke-linecap="butt" />
<line x1="3348.30" y1="405.20" x2="3297.90" y2="529.00" stroke="#000" stroke-width="1.60" stroke-linecap="butt" />
<line x1="3348.30" y1="405.20" x2="3318.27" y2="534.98" stroke="#000" stroke-width="1.50" stroke-linecap="butt" />
<circle cx="3363.8" cy="306.5" r="15.7"/>
<circle cx="3363.8" cy="357.9" r="15.7"/>
<circle cx="3363.8" cy="409.3" r="15.7"/>
<circle cx="3363.8" cy="459.9" r="15.7"/>
<circle cx="3363.8" cy="509.8" r="15.7"/>
<circle cx="3257.3" cy="418.1" r="38.2"/>
<circle cx="3258.5" cy="313.4" r="36.8"/>
<circle cx="3439.0" cy="366.1" r="24.9"/>
<circle cx="3439.5" cy="447.6" r="26.0"/>
</g>
<circle cx="3344.2" cy="413.0" r="119.8" fill="none" stroke="#000" stroke-width="3.4"/>
<g fill="#000">
<rect x="3250.00" y="543.00" width="5.70" height="31.10"/>
<path d="M3287.0,557.4 L3287.0,551.5 Q3287.0,548.3 3283.8,548.3 L3263.1,548.3 Q3259.9,548.3 3259.9,551.5 L3259.9,570.9 Q3259.9,574.1 3263.1,574.1 L3283.8,574.1 Q3287.0,574.1 3287.0,570.9 L3287.0,564.1 L3282.3,564.9 L3282.3,570.1 L3264.6,570.1 L3264.6,552.3 L3282.3,552.3 L3282.3,558.1999999999999 Z"/>
<rect x="3290.00" y="548.30" width="4.70" height="25.80"/><rect x="3290.00" y="548.30" width="25.30" height="4.00"/><rect x="3290.00" y="558.90" width="16.90" height="4.00"/><rect x="3290.00" y="570.10" width="25.90" height="4.00"/>
<path d="M3350.0,553.7 L3350.0,546.6 Q3350.0,543.0 3346.4,543.0 L3322.5,543.0 Q3318.9,543.0 3318.9,546.6 L3318.9,570.5 Q3318.9,574.1 3322.5,574.1 L3346.4,574.1 Q3350.0,574.1 3350.0,570.5 L3350.0,561.9 L3345.0,562.6999999999999 L3345.0,570.2 L3323.9,570.2 L3323.9,546.9 L3345.0,546.9 L3345.0,554.5 Z"/>
<path d="M3353.8,548.3 L3353.8,570.9 Q3353.8,574.1 3357.0,574.1 L3378.7000000000003,574.1 Q3381.9,574.1 3381.9,570.9 L3381.9,548.3 L3377.2000000000003,548.3 L3377.2000000000003,570.1 L3358.5,570.1 L3358.5,548.3 Z"/>
<path fill-rule="evenodd" d="M3386.4,548.3 L3410.1,548.3 Q3413.1,548.3 3413.1,551.3 L3413.1,557.9000000000001 Q3413.1,560.9000000000001 3411.1,560.9000000000001 Q3414.1,560.9000000000001 3414.1,563.9000000000001 L3414.1,571.1 Q3414.1,574.1 3411.1,574.1 L3386.4,574.1 Z M3391.1,552.3 L3408.4,552.3 L3408.4,558.9000000000001 L3391.1,558.9000000000001 Z M3391.1,562.9000000000001 L3409.4,562.9000000000001 L3409.4,570.1 L3391.1,570.1 Z"/>
<rect x="3417.50" y="548.30" width="4.70" height="25.80"/><rect x="3417.50" y="548.30" width="24.40" height="4.00"/><rect x="3417.50" y="558.90" width="16.80" height="4.00"/><rect x="3417.50" y="570.10" width="25.00" height="4.00"/>
</g>
</g>
<g fill="#000" filter="url(#thin)"><text transform="translate(1878.49,170.90) scale(0.9185,1.0)" style="font-family:&quot;Liberation Serif&quot;,serif;font-size:123px;">MC,</text>
<text transform="translate(2119.08,170.90) scale(0.9190,1.0)" style="font-family:&quot;Liberation Serif&quot;,serif;font-size:123px;">H3a</text>
<text transform="translate(423.07,1678.70) scale(0.9213,1.0)" style="font-family:&quot;Liberation Serif&quot;,serif;font-size:126.2px;">10</text>
<text transform="translate(218.49,248.70) scale(0.9842,1.0)" style="font-family:&quot;Liberation Serif&quot;,serif;font-size:126.2px;">2</text>
<text transform="translate(429.56,248.70) scale(0.9222,1.0)" style="font-family:&quot;Liberation Serif&quot;,serif;font-size:126.2px;">10</text>
<text transform="translate(641.00,2504.50) scale(0.9186,1.0)" style="font-family:&quot;Liberation Serif&quot;,serif;font-size:126.2px;">10</text>
<text transform="translate(1530.30,2504.50) scale(0.9186,1.0)" style="font-family:&quot;Liberation Serif&quot;,serif;font-size:126.2px;">10</text>
<text transform="translate(2419.50,2504.50) scale(0.9186,1.0)" style="font-family:&quot;Liberation Serif&quot;,serif;font-size:126.2px;">10</text>
<text transform="translate(3308.80,2504.50) scale(0.9186,1.0)" style="font-family:&quot;Liberation Serif&quot;,serif;font-size:126.2px;">10</text>
<text transform="translate(1704.27,406.00) scale(0.9831,1.0)" style="font-family:&quot;Liberation Serif&quot;,serif;font-size:101px;">Correlations</text>
<text transform="translate(1991.95,516.00) scale(0.9385,1.0)" style="font-family:&quot;Liberation Serif&quot;,serif;font-size:99.7px;">0.001425</text>
<text transform="translate(1706.46,631.00) scale(0.9460,1.0)" style="font-family:&quot;Liberation Serif&quot;,serif;font-size:101px;">Rolling</text>
<text transform="translate(2019.44,631.00) scale(0.9781,1.0)" style="font-family:&quot;Liberation Serif&quot;,serif;font-size:101px;">mean</text>
<text transform="translate(2266.75,631.00) scale(0.9455,1.0)" style="font-family:&quot;Liberation Serif&quot;,serif;font-size:101px;">(window</text>
<text transform="translate(2674.45,631.00) scale(0.9364,1.0)" style="font-family:&quot;Liberation Serif&quot;,serif;font-size:101px;">8)</text>
<text transform="translate(2212.22,744.10) scale(0.9443,1.0)" style="font-family:&quot;Liberation Serif&quot;,serif;font-size:99.7px;">0.001688</text>
<text transform="translate(1706.42,862.00) scale(0.9588,1.0)" style="font-family:&quot;Liberation Serif&quot;,serif;font-size:101px;">Poly</text>
<text transform="translate(1912.86,862.00) scale(0.9531,1.0)" style="font-family:&quot;Liberation Serif&quot;,serif;font-size:101px;">degree</text>
<text transform="translate(2197.17,862.00) scale(0.9140,1.0)" style="font-family:&quot;Liberation Serif&quot;,serif;font-size:99.7px;">4</text>
<text transform="translate(2272.94,862.00) scale(0.9186,1.0)" style="font-family:&quot;Liberation Serif&quot;,serif;font-size:101px;">fit</text>
<text transform="translate(2184.00,971.90) scale(0.9496,1.0)" style="font-family:&quot;Liberation Serif&quot;,serif;font-size:99.7px;">0.001587</text></g>
<g fill="#000" fill-opacity="0.75" filter="url(#thin)"><text transform="translate(181.45,1195.62) rotate(-90) scale(0.9402,1.0)" style="font-family:&quot;Liberation Serif&quot;,serif;font-size:137px;">Global</text>
<text transform="translate(181.45,802.14) rotate(-90) scale(0.9624,1.0)" style="font-family:&quot;Liberation Serif&quot;,serif;font-size:137px;">Correlation</text></g>
<g fill="#000" filter="url(#thin2)"><text transform="translate(181.45,1195.62) rotate(-90) scale(0.9402,1.0)" style="font-family:&quot;Liberation Serif&quot;,serif;font-size:137px;">Global</text>
<text transform="translate(181.45,802.14) rotate(-90) scale(0.9624,1.0)" style="font-family:&quot;Liberation Serif&quot;,serif;font-size:137px;">Correlation</text></g>
<g fill="#000" fill-opacity="0.5"><text transform="translate(538.24,1632.60) scale(0.9016,1.0)" style="font-family:&quot;Liberation Serif&quot;,serif;font-size:86.8px;">1</text>
<text transform="translate(544.63,203.10) scale(0.8754,1.0)" style="font-family:&quot;Liberation Serif&quot;,serif;font-size:86.8px;">1</text>
<text transform="translate(823.50,2458.50) scale(0.9333,1.0)" style="font-family:&quot;Liberation Serif&quot;,serif;font-size:86.8px;">4</text>
<text transform="translate(1712.62,2458.50) scale(0.9444,1.0)" style="font-family:&quot;Liberation Serif&quot;,serif;font-size:86.8px;">3</text>
<text transform="translate(2601.72,2458.50) scale(0.9710,1.0)" style="font-family:&quot;Liberation Serif&quot;,serif;font-size:86.8px;">2</text>
<text transform="translate(3492.14,2458.50) scale(0.9016,1.0)" style="font-family:&quot;Liberation Serif&quot;,serif;font-size:86.8px;">1</text>
<text transform="translate(1748.59,529.90) scale(1.1411,1.0)" style="font-family:&quot;Liberation Serif&quot;,serif;font-size:65px;">min</text>
<text transform="translate(1748.65,758.00) scale(1.0977,1.0)" style="font-family:&quot;Liberation Serif&quot;,serif;font-size:65px;">min, rolling</text>
<text transform="translate(1748.65,985.90) scale(1.0989,1.0)" style="font-family:&quot;Liberation Serif&quot;,serif;font-size:65px;">min, poly4</text></g>
<g fill="#000" filter="url(#thin)"><text transform="translate(538.24,1632.60) scale(0.9016,1.0)" style="font-family:&quot;Liberation Serif&quot;,serif;font-size:86.8px;">1</text>
<text transform="translate(544.63,203.10) scale(0.8754,1.0)" style="font-family:&quot;Liberation Serif&quot;,serif;font-size:86.8px;">1</text>
<text transform="translate(823.50,2458.50) scale(0.9333,1.0)" style="font-family:&quot;Liberation Serif&quot;,serif;font-size:86.8px;">4</text>
<text transform="translate(1712.62,2458.50) scale(0.9444,1.0)" style="font-family:&quot;Liberation Serif&quot;,serif;font-size:86.8px;">3</text>
<text transform="translate(2601.72,2458.50) scale(0.9710,1.0)" style="font-family:&quot;Liberation Serif&quot;,serif;font-size:86.8px;">2</text>
<text transform="translate(3492.14,2458.50) scale(0.9016,1.0)" style="font-family:&quot;Liberation Serif&quot;,serif;font-size:86.8px;">1</text>
<text transform="translate(1748.59,529.90) scale(1.1411,1.0)" style="font-family:&quot;Liberation Serif&quot;,serif;font-size:65px;">min</text>
<text transform="translate(1748.65,758.00) scale(1.0977,1.0)" style="font-family:&quot;Liberation Serif&quot;,serif;font-size:65px;">min, rolling</text>
<text transform="translate(1748.65,985.90) scale(1.0989,1.0)" style="font-family:&quot;Liberation Serif&quot;,serif;font-size:65px;">min, poly4</text></g>
<path transform="translate(3508.40,2578.60) scale(1.0000,1.0000)" d="M-0.1,18.9 C3.5,12 8,6.5 11.6,4.2 C14,2 16.5,0.7 19.5,0.5 L59.3,0.5 A3.4,3.4 0 0 1 59.3,7.3 L34.7,7.3 L25.9,52.5 C25,57 23.5,59.4 20.6,59.4 C17.5,59.4 16,57.5 16.9,54.5 L31.4,7.3 L20.5,7.3 C17,7.4 15.5,7.7 14,8.1 C10.5,9.5 6,14 2.5,19.4 Z" fill="#000"/>
<path transform="translate(1711.20,472.70) scale(0.7308,0.7176)" d="M-0.1,18.9 C3.5,12 8,6.5 11.6,4.2 C14,2 16.5,0.7 19.5,0.5 L59.3,0.5 A3.4,3.4 0 0 1 59.3,7.3 L34.7,7.3 L25.9,52.5 C25,57 23.5,59.4 20.6,59.4 C17.5,59.4 16,57.5 16.9,54.5 L31.4,7.3 L20.5,7.3 C17,7.4 15.5,7.7 14,8.1 C10.5,9.5 6,14 2.5,19.4 Z" fill="#000" stroke="#000" stroke-width="1.642" stroke-linejoin="round"/>
<path transform="translate(1711.20,700.50) scale(0.7308,0.7176)" d="M-0.1,18.9 C3.5,12 8,6.5 11.6,4.2 C14,2 16.5,0.7 19.5,0.5 L59.3,0.5 A3.4,3.4 0 0 1 59.3,7.3 L34.7,7.3 L25.9,52.5 C25,57 23.5,59.4 20.6,59.4 C17.5,59.4 16,57.5 16.9,54.5 L31.4,7.3 L20.5,7.3 C17,7.4 15.5,7.7 14,8.1 C10.5,9.5 6,14 2.5,19.4 Z" fill="#000" stroke="#000" stroke-width="1.642" stroke-linejoin="round"/>
<path transform="translate(1711.20,928.50) scale(0.7308,0.7176)" d="M-0.1,18.9 C3.5,12 8,6.5 11.6,4.2 C14,2 16.5,0.7 19.5,0.5 L59.3,0.5 A3.4,3.4 0 0 1 59.3,7.3 L34.7,7.3 L25.9,52.5 C25,57 23.5,59.4 20.6,59.4 C17.5,59.4 16,57.5 16.9,54.5 L31.4,7.3 L20.5,7.3 C17,7.4 15.5,7.7 14,8.1 C10.5,9.5 6,14 2.5,19.4 Z" fill="#000" stroke="#000" stroke-width="1.642" stroke-linejoin="round"/>
<line x1="325.50" y1="189.80" x2="380.80" y2="244.30" stroke="#000" stroke-width="4.40" stroke-linecap="round" />
<line x1="325.50" y1="244.30" x2="380.80" y2="189.80" stroke="#000" stroke-width="4.40" stroke-linecap="round" />
<line x1="764.90" y1="2435.80" x2="814.60" y2="2435.80" stroke="#000" stroke-width="3.60" stroke-linecap="round" />
<line x1="1654.20" y1="2435.80" x2="1703.90" y2="2435.80" stroke="#000" stroke-width="3.60" stroke-linecap="round" />
<line x1="2543.40" y1="2435.80" x2="2593.10" y2="2435.80" stroke="#000" stroke-width="3.60" stroke-linecap="round" />
<line x1="3432.70" y1="2435.80" x2="3482.40" y2="2435.80" stroke="#000" stroke-width="3.60" stroke-linecap="round" />
<line x1="1900.40" y1="481.00" x2="1958.60" y2="481.00" stroke="#000" stroke-width="4.00" stroke-linecap="round" />
<line x1="1900.40" y1="499.00" x2="1958.60" y2="499.00" stroke="#000" stroke-width="4.00" stroke-linecap="round" />
<line x1="2121.70" y1="709.10" x2="2181.00" y2="709.10" stroke="#000" stroke-width="4.00" stroke-linecap="round" />
<line x1="2121.70" y1="727.10" x2="2181.00" y2="727.10" stroke="#000" stroke-width="4.00" stroke-linecap="round" />
<line x1="2094.60" y1="936.90" x2="2153.90" y2="936.90" stroke="#000" stroke-width="4.00" stroke-linecap="round" />
<line x1="2094.60" y1="954.90" x2="2153.90" y2="954.90" stroke="#000" stroke-width="4.00" stroke-linecap="round" />
<line x1="2610.30" y1="596.30" x2="2668.20" y2="596.30" stroke="#000" stroke-width="4.00" stroke-linecap="round" />
<line x1="2610.30" y1="614.30" x2="2668.20" y2="614.30" stroke="#000" stroke-width="4.00" stroke-linecap="round" />
</svg>
</body></html>
